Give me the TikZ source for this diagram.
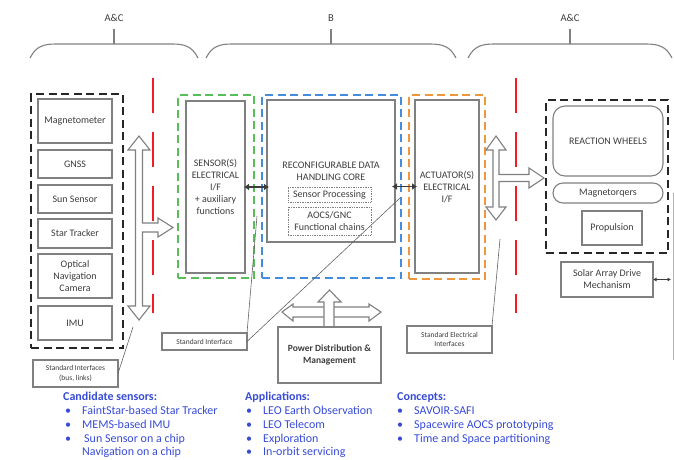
\documentclass[tikz,border=0pt]{standalone}
\usepackage{fontspec}
\setmainfont{Carlito}
\usetikzlibrary{arrows.meta}
\definecolor{boxgray}{RGB}{128,128,128}
\definecolor{textdark}{RGB}{60,60,60}
\definecolor{busred}{RGB}{238,30,36}
\definecolor{ifgreen}{RGB}{88,190,88}
\definecolor{coreblue}{RGB}{70,140,222}
\definecolor{actorange}{RGB}{240,150,60}
\definecolor{noteblue}{RGB}{55,75,215}
\begin{document}
\begin{tikzpicture}[x=1pt,y=-1pt,
  gbox/.style={draw=boxgray, line width=1.1pt, inner sep=0pt, outer sep=0pt,
    text=textdark, font=\fontsize{10}{12}\selectfont, align=center},
  rbox/.style={gbox, rounded corners=12pt},
  dotbox/.style={draw=boxgray, densely dotted, line width=0.7pt, inner sep=0pt,
    outer sep=0pt, text=textdark, font=\fontsize{10}{12}\selectfont, align=center},
  group/.style={dash pattern=on 8pt off 4.5pt, line width=1.5pt, inner sep=0pt, outer sep=0pt},
  note/.style={gbox, font=\fontsize{7.5}{9.5}\selectfont},
  brace/.style={draw=boxgray, line width=1.1pt},
  redbus/.style={draw=busred, line width=2.4pt, dash pattern=on 35pt off 19pt},
  hollow/.style={draw=boxgray, fill=white, line width=1.1pt, line join=miter},
  link/.style={draw=textdark, line width=1.8pt, {Latex[length=5pt,width=7pt]}-{Latex[length=5pt,width=7pt]}},
  callout/.style={draw=textdark!80, line width=0.6pt},
  bt/.style={text=noteblue, font=\fontsize{12}{14}\selectfont, anchor=base west, inner sep=0pt},
  toplabel/.style={text=textdark, font=\fontsize{10.5}{12}\selectfont}
]
\useasboundingbox (0,0) rectangle (674,459);

% scope braces along the top
\draw[brace] (30,58) .. controls (36,46) and (44,44) .. (56,44) -- (172,44) .. controls (184,44) and (192,46) .. (198,58);
\draw[brace] (114,44) -- (114,29);
\draw[brace] (206,58) .. controls (212,46) and (220,44) .. (232,44) -- (430,44) .. controls (442,44) and (450,46) .. (456,58);
\draw[brace] (331,44) -- (331,29);
\draw[brace] (468,58) .. controls (474,46) and (482,44) .. (494,44) -- (646,44) .. controls (658,44) and (666,46) .. (672,58);
\draw[brace] (570,44) -- (570,29);
\node[toplabel] (lblL) at (114,18) {A\&C};
\node[toplabel] (lblB) at (331,18) {B};
\node[toplabel] (lblR) at (570,18) {A\&C};

% red boundary lines
\draw[redbus] (153,78) -- (153,313);
\draw[redbus] (516,78) -- (516,313);

% sensor group
\node[group, draw=black!85, minimum width=92pt, minimum height=254pt] (sensgrp) at (77,221) {};
\node[gbox, minimum width=74pt, minimum height=44pt] (mag) at (75,121) {Magnetometer};
\node[gbox, minimum width=74pt, minimum height=28pt] (gnss) at (75,164) {GNSS};
\node[gbox, minimum width=74pt, minimum height=28pt] (sun) at (75,199) {Sun Sensor};
\node[gbox, minimum width=74pt, minimum height=29pt] (star) at (75,233.5) {Star Tracker};
\node[gbox, minimum width=74pt, minimum height=44pt] (onc) at (75,276) {Optical\\Navigation\\Camera};
\node[gbox, minimum width=74pt, minimum height=34pt] (imu) at (75,323) {IMU};

% sensor-side bus
\draw[hollow] (135.5,150) -- (128,150) -- (139,136) -- (150,150) -- (142.5,150) -- (142.5,223)
  -- (158,223) -- (158,218) -- (173,227.5) -- (158,237) -- (158,232) -- (142.5,232)
  -- (142.5,306) -- (150,306) -- (139,320) -- (128,306) -- (135.5,306) -- cycle;

% sensor electrical interface
\node[group, draw=ifgreen, minimum width=76pt, minimum height=183pt] (sensgrpif) at (216,186.5) {};
\node[gbox, minimum width=59pt, minimum height=172pt] (sensif) at (215.5,187)
  {SENSOR(S)\\ELECTRICAL\\I/F\\+ auxiliary\\functions};

% data handling core
\node[group, draw=coreblue, minimum width=139pt, minimum height=183pt] (coregrp) at (331.5,186.5) {};
\node[gbox, minimum width=128pt, minimum height=142pt] (core) at (331,171) {};
\node[text=textdark, font=\fontsize{10}{12}\selectfont, align=center] (coretxt) at (331,171)
  {RECONFIGURABLE DATA\\HANDLING CORE};
\node[dotbox, minimum width=83pt, minimum height=15pt] (sproc) at (329.5,194.5) {Sensor Processing};
\node[dotbox, minimum width=83pt, minimum height=28pt] (aocs) at (329.5,221) {AOCS/GNC\\Functional chains};

% actuator electrical interface
\node[group, draw=actorange, minimum width=76pt, minimum height=184pt] (actgrp) at (447,187) {};
\node[gbox, minimum width=64pt, minimum height=173pt] (actif) at (447,186.5) {};
\node[text=textdark, font=\fontsize{10}{12}\selectfont, align=center] (acttxt) at (447,187)
  {ACTUATOR(S)\\ELECTRICAL\\I/F};

% links between interfaces and core
\draw[link, shorten <=-1pt, shorten >=-2pt] (sensif.east) -- (core.west |- sensif.east);
\draw[link, shorten <=-3pt, shorten >=-2pt] (core.east |- actif.west) -- (actif.west);

% actuator-side bus
\draw[hollow] (493,150) -- (486,150) -- (496,136) -- (506,150) -- (499,150) -- (499,174.5)
  -- (529,174.5) -- (529,168) -- (544,178) -- (529,188) -- (529,181.5) -- (499,181.5)
  -- (499,207) -- (506,207) -- (496,220) -- (486,207) -- (493,207) -- cycle;

% actuator group
\node[group, draw=black!85, minimum width=122pt, minimum height=153pt] (actuators) at (607,176.5) {};
\node[rbox, minimum width=110pt, minimum height=70pt] (rw) at (608,141) {REACTION WHEELS};
\node[rbox, rounded corners=10pt, minimum width=110pt, minimum height=20pt] (mtq) at (608,193) {Magnetorqers};
\node[gbox, minimum width=60pt, minimum height=34pt] (prop) at (612,228) {Propulsion};
\node[gbox, minimum width=92pt, minimum height=35pt] (sada) at (607,279.5) {Solar Array Drive\\Mechanism};
\coordinate (sadaend) at (671,279.5);
\draw[textdark, line width=0.8pt, {Latex[length=3.5pt,width=4pt]}-{Latex[length=3.5pt,width=4pt]}] (sada.east) -- (sadaend);
\draw[boxgray!60, line width=0.8pt] (673,193) -- (673,360);

% power distribution
\draw[hollow] (324,307) -- (293,307) -- (293,304) -- (282,312) -- (293,321) -- (293,317)
  -- (369,317) -- (369,321) -- (381,312) -- (369,304) -- (369,307) -- cycle;
\draw[hollow] (324,327) -- (324,302) -- (318,302) -- (329.5,290) -- (341,302) -- (334,302) -- (334,327) -- cycle;
\node[gbox, minimum width=103pt, minimum height=56pt, font=\bfseries\fontsize{9.5}{12}\selectfont] (power) at (329.5,355)
  {Power Distribution \&\\Management};

% interface callouts
\node[note, minimum width=85pt, minimum height=27pt] (stdbus) at (75.5,373.5) {Standard Interfaces\\(bus, links)};
\coordinate (busend) at (133,327);
\draw[callout] (stdbus.east) -- (busend);
\node[note, minimum width=85pt, minimum height=17pt] (stdif) at (204.5,341.5) {Standard Interface};
\coordinate (ifendA) at (257,216);
\coordinate (ifendB) at (400,198);
\draw[callout] (stdif.north east) -- (ifendA);
\draw[callout] (stdif.east) -- (ifendB);
\node[note, minimum width=85pt, minimum height=27pt] (stdel) at (449.5,339.5) {Standard Electrical\\Interfaces};
\coordinate (elend) at (500,239);
\draw[callout] (stdel.north east) -- (elend);

% notes below
\node[bt] (cshead) at (63,400) {\bfseries Candidate sensors:};
\node[bt] (csb1) at (65,414.5) {•};
\node[bt] (cs1) at (82,414.5) {FaintStar-based Star Tracker};
\node[bt] (csb2) at (65,428.5) {•};
\node[bt] (cs2) at (82,428.5) {MEMS-based IMU};
\node[bt] (csb3) at (65,442) {•};
\node[bt] (cs3) at (84,442) {Sun Sensor on a chip};
\node[bt] (cs4) at (82,455.5) {Navigation on a chip};

\node[bt] (aphead) at (245,400) {\bfseries Applications:};
\node[bt] (apb1) at (246,414.5) {•};
\node[bt] (ap1) at (263,414.5) {LEO Earth Observation};
\node[bt] (apb2) at (246,428.5) {•};
\node[bt] (ap2) at (263,428.5) {LEO Telecom};
\node[bt] (apb3) at (246,442) {•};
\node[bt] (ap3) at (263,442) {Exploration};
\node[bt] (apb4) at (246,455.5) {•};
\node[bt] (ap4) at (263,455.5) {In-orbit servicing};

\node[bt] (cohead) at (397,400) {\bfseries Concepts:};
\node[bt] (cob1) at (397,414.5) {•};
\node[bt] (co1) at (414,414.5) {SAVOIR-SAFI};
\node[bt] (cob2) at (397,428.5) {•};
\node[bt] (co2) at (414,428.5) {Spacewire AOCS prototyping};
\node[bt] (cob3) at (397,442) {•};
\node[bt] (co3) at (414,442) {Time and Space partitioning};
\end{tikzpicture}
\end{document}
